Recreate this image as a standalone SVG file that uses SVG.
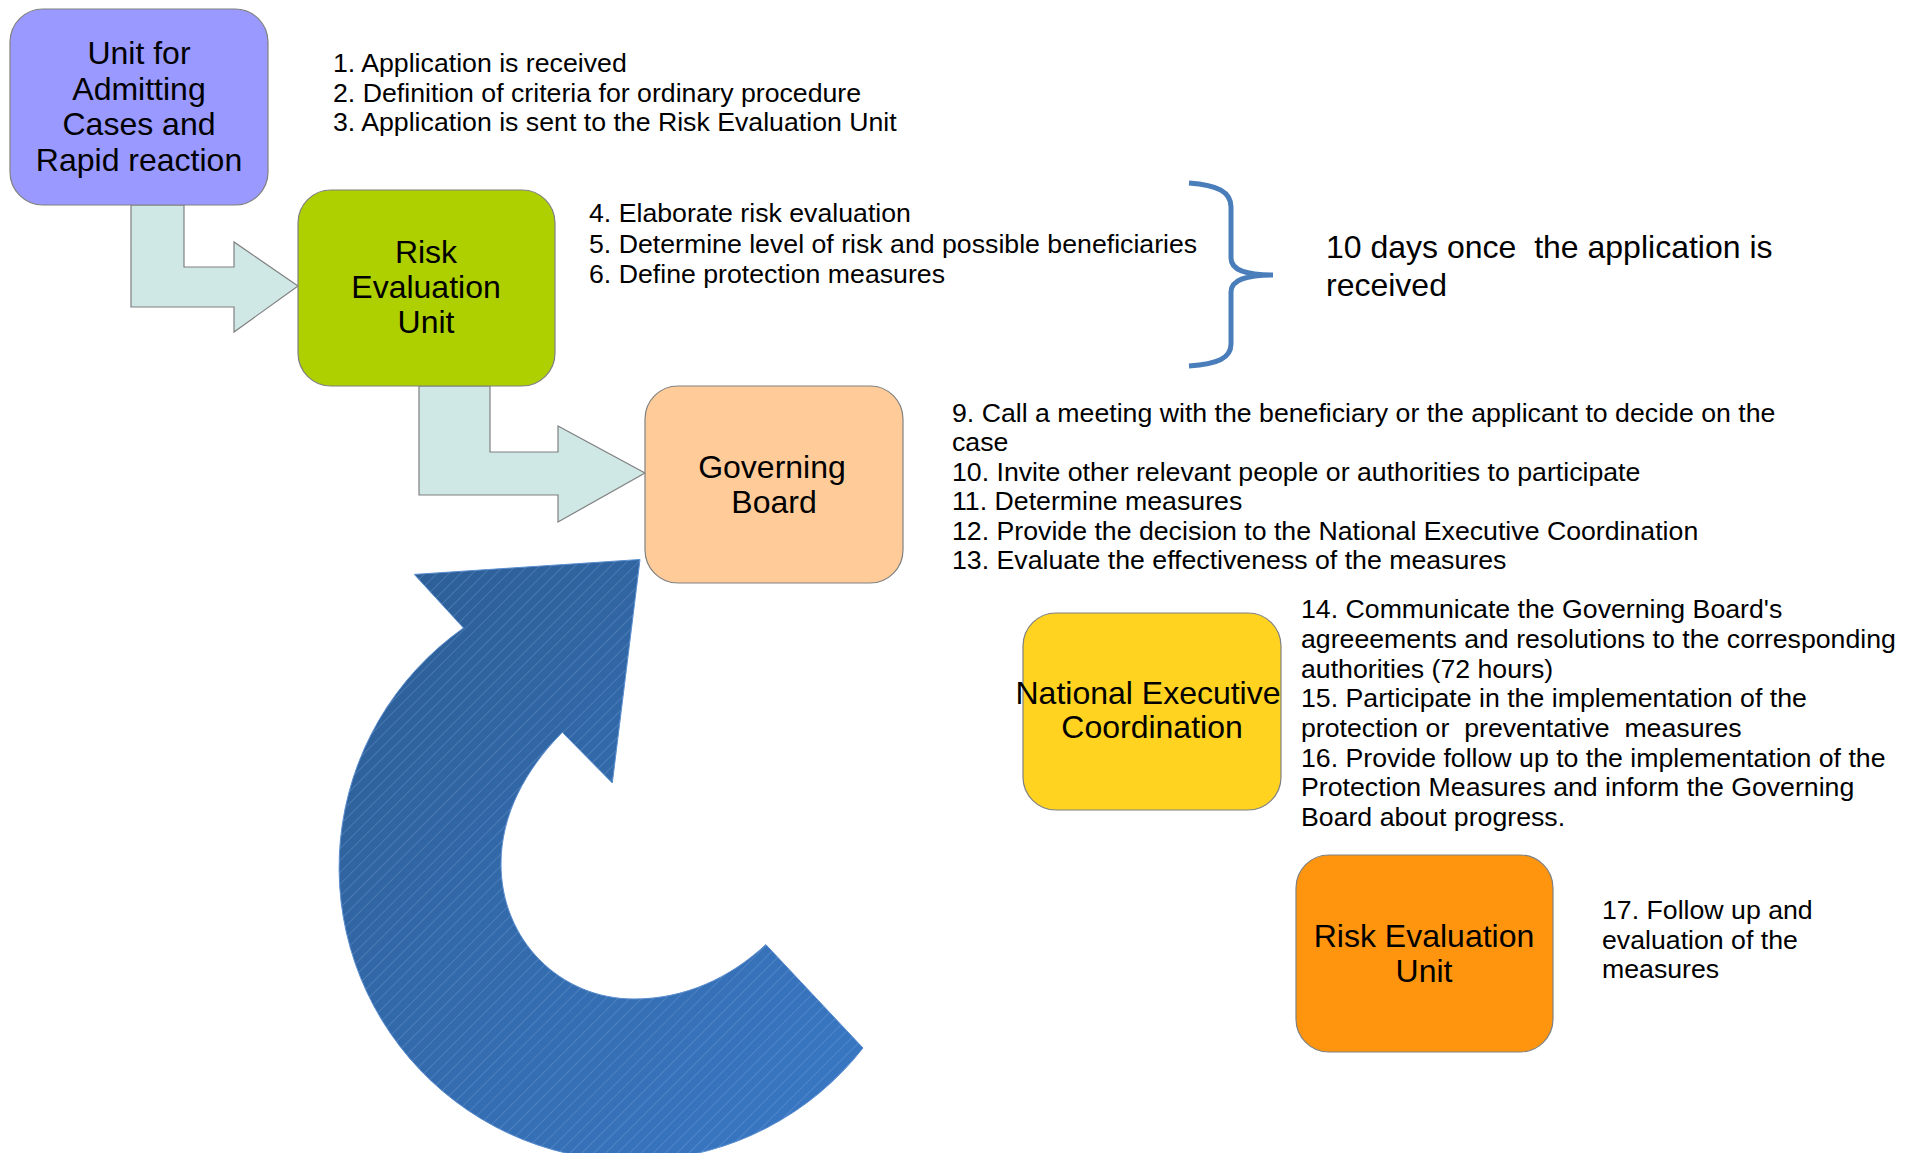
<svg xmlns="http://www.w3.org/2000/svg" width="1907" height="1153" viewBox="0 0 1907 1153">
<style>
  .node rect { stroke: #808080; stroke-width: 1.2; }
  .ntext { font-family: "Liberation Sans", Arial, sans-serif; font-size: 32px; fill: #000; text-anchor: middle; }
  .list { font-family: "Liberation Sans", Arial, sans-serif; font-size: 26.7px; fill: #000; white-space: pre; }
  .big { font-family: "Liberation Sans", Arial, sans-serif; font-size: 32px; fill: #000; white-space: pre; }
  .bent { fill: #cfe7e5; stroke: #808080; stroke-width: 1.2; stroke-linejoin: miter; }
</style>
<defs>
  <linearGradient id="blueGrad" x1="0" y1="0" x2="1" y2="1">
    <stop offset="0" stop-color="#2c5d93"/>
    <stop offset="1" stop-color="#3a79c7"/>
  </linearGradient>
  <pattern id="hatch" width="8.4" height="8.4" patternUnits="userSpaceOnUse" patternTransform="rotate(45)">
    <line x1="0" y1="0" x2="0" y2="8.4" stroke="#9dbde6" stroke-width="0.8" stroke-opacity="0.6"/>
  </pattern>
</defs>
<rect width="1907" height="1153" fill="#ffffff"/>

<g id="connectors">
  <polygon class="bent" points="131,205 184,205 184,267 234,267 234,242 298,286 234,332 234,307 131,307"/>
  <polygon class="bent" points="419,386 490,386 490,452 558,452 558,426 645,473 558,522 558,495 419,495"/>
  <g id="loop-arrow">
    <path d="M640,559.5 L612.3,783 L562.3,732.3 C525,770 501,815 501,864 C501,940 560,999 634,999 C685,999 730,978 765.8,944.6 L863,1048 A293,293 0 1,1 463.5,628 L414.3,574.4 Z" fill="url(#blueGrad)" stroke="#5a8dcf" stroke-width="1"/>
    <path d="M640,559.5 L612.3,783 L562.3,732.3 C525,770 501,815 501,864 C501,940 560,999 634,999 C685,999 730,978 765.8,944.6 L863,1048 A293,293 0 1,1 463.5,628 L414.3,574.4 Z" fill="url(#hatch)"/>
  </g>
</g>

<g id="node-unit-admitting" class="node">
  <rect x="10" y="9" width="258" height="196" rx="33" ry="33" fill="#9999ff"/>
  <text class="ntext" x="139" y="64">Unit for</text>
  <text class="ntext" x="139" y="100">Admitting</text>
  <text class="ntext" x="139" y="135">Cases and</text>
  <text class="ntext" x="139" y="171">Rapid reaction</text>
</g>

<g id="node-risk-eval" class="node">
  <rect x="298" y="190" width="257" height="196" rx="33" ry="33" fill="#aecf00"/>
  <text class="ntext" x="426" y="263">Risk</text>
  <text class="ntext" x="426" y="298">Evaluation</text>
  <text class="ntext" x="426" y="333">Unit</text>
</g>

<g id="node-governing" class="node">
  <rect x="645" y="386" width="258" height="197" rx="33" ry="33" fill="#ffcc99"/>
  <text class="ntext" x="772" y="478">Governing</text>
  <text class="ntext" x="774" y="513">Board</text>
</g>

<g id="node-national" class="node">
  <rect x="1023" y="613" width="258" height="197" rx="33" ry="33" fill="#ffd320"/>
  <text class="ntext" x="1148" y="704">National Executive</text>
  <text class="ntext" x="1152" y="738">Coordination</text>
</g>

<g id="node-risk-eval-2" class="node">
  <rect x="1296" y="855" width="257" height="197" rx="33" ry="33" fill="#ff950e"/>
  <text class="ntext" x="1424" y="947">Risk Evaluation</text>
  <text class="ntext" x="1424" y="982">Unit</text>
</g>

<g id="brace">
  <path d="M1189,183 C1218,185 1231,192 1231,207 L1231,258 C1231,270 1245,275 1273,275 C1245,275 1231,280 1231,292 L1231,344 C1231,358 1218,364 1189,366" fill="none" stroke="#4a7ebb" stroke-width="5"/>
</g>

<g id="labels">
  <text class="list" x="333" y="72">1. Application is received</text>
  <text class="list" x="333" y="101.5">2. Definition of criteria for ordinary procedure</text>
  <text class="list" x="333" y="131">3. Application is sent to the Risk Evaluation Unit</text>

  <text class="list" x="589" y="222">4. Elaborate risk evaluation</text>
  <text class="list" x="589" y="252.5">5. Determine level of risk and possible beneficiaries</text>
  <text class="list" x="589" y="282.5">6. Define protection measures</text>

  <text class="big" x="1326" y="258" xml:space="preserve">10 days once  the application is</text>
  <text class="big" x="1326" y="296">received</text>

  <text class="list" x="952" y="421.5">9. Call a meeting with the beneficiary or the applicant to decide on the</text>
  <text class="list" x="952" y="451">case</text>
  <text class="list" x="952" y="480.5">10. Invite other relevant people or authorities to participate</text>
  <text class="list" x="952" y="510">11. Determine measures</text>
  <text class="list" x="952" y="539.5">12. Provide the decision to the National Executive Coordination</text>
  <text class="list" x="952" y="569">13. Evaluate the effectiveness of the measures</text>

  <text class="list" x="1301" y="618">14. Communicate the Governing Board's</text>
  <text class="list" x="1301" y="648">agreeements and resolutions to the corresponding</text>
  <text class="list" x="1301" y="677.5">authorities (72 hours)</text>
  <text class="list" x="1301" y="707">15. Participate in the implementation of the</text>
  <text class="list" x="1301" y="737" xml:space="preserve">protection or  preventative  measures</text>
  <text class="list" x="1301" y="766.5">16. Provide follow up to the implementation of the</text>
  <text class="list" x="1301" y="796">Protection Measures and inform the Governing</text>
  <text class="list" x="1301" y="825.5">Board about progress.</text>

  <text class="list" x="1602" y="919">17. Follow up and</text>
  <text class="list" x="1602" y="949">evaluation of the</text>
  <text class="list" x="1602" y="978">measures</text>
</g>
</svg>
